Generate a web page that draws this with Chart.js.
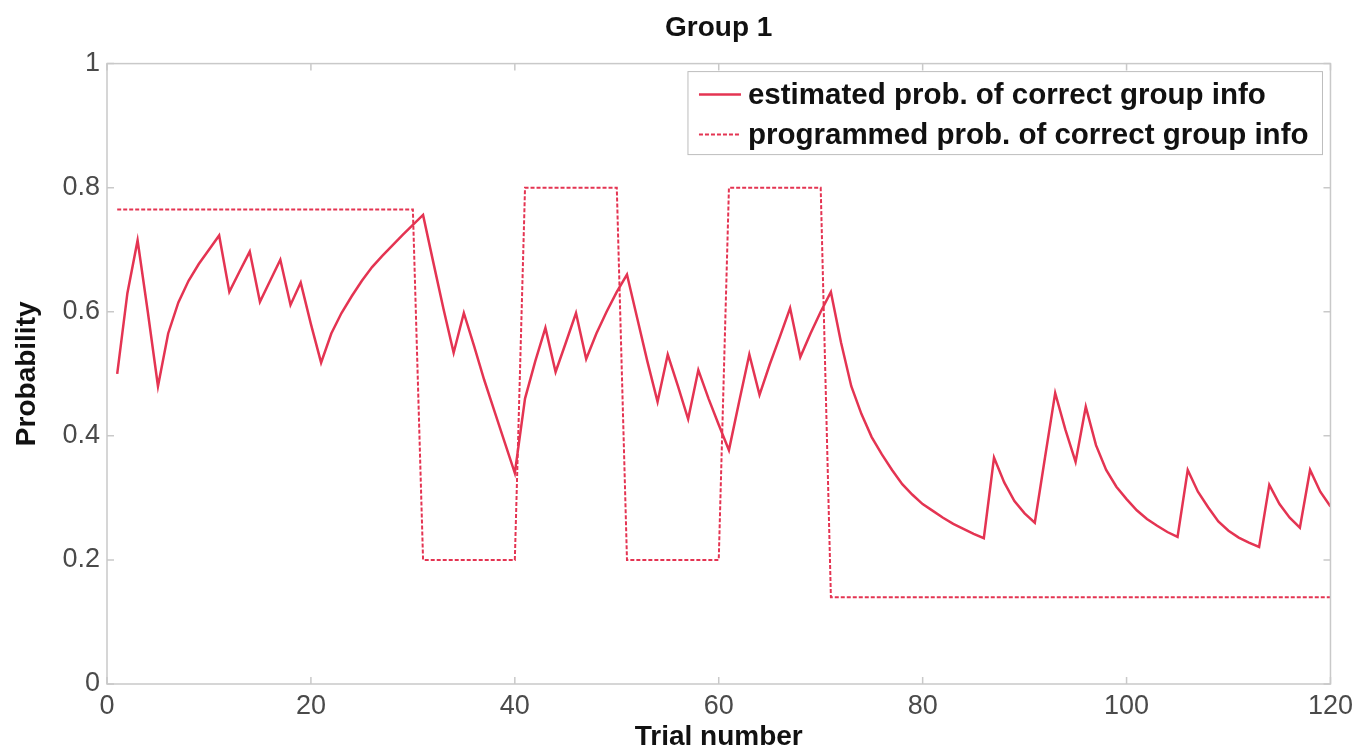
<!DOCTYPE html>
<html>
<head>
<meta charset="utf-8">
<script src="https://cdn.jsdelivr.net/npm/chart.js@4.4.1/dist/chart.umd.min.js"></script>
<style>
  html, body { margin: 0; padding: 0; background: #fff; }
  #wrap { width: 1359px; height: 754px; }
</style>
</head>
<body>
<div id="wrap"><canvas id="groupChart"></canvas></div>
<script>
// trial numbers 1..120
const trials = Array.from({ length: 120 }, (_, i) => i + 1);

// estimated prob. of correct group info
const estimated = [
  0.50, 0.63, 0.715, 0.60, 0.48, 0.565, 0.615, 0.65, 0.677, 0.70,
  0.723, 0.632, 0.665, 0.697, 0.616, 0.65, 0.684, 0.611, 0.647, 0.58,
  0.518, 0.565, 0.598, 0.625, 0.65, 0.672, 0.69, 0.707, 0.724, 0.74,
  0.756, 0.68, 0.605, 0.534, 0.598, 0.545, 0.49, 0.44, 0.39, 0.34,
  0.46, 0.52, 0.574, 0.503, 0.55, 0.598, 0.524, 0.565, 0.60, 0.632,
  0.66, 0.59, 0.52, 0.455, 0.531, 0.48, 0.427, 0.506, 0.46, 0.418,
  0.377, 0.455, 0.531, 0.466, 0.515, 0.56, 0.606, 0.527, 0.565, 0.60,
  0.632, 0.55, 0.48, 0.435, 0.398, 0.37, 0.345, 0.322, 0.305, 0.29,
  0.279, 0.268, 0.258, 0.25, 0.242, 0.235, 0.365, 0.325, 0.295, 0.275,
  0.26, 0.365, 0.469, 0.41, 0.358, 0.447, 0.385, 0.345, 0.318, 0.298,
  0.28, 0.266, 0.255, 0.245, 0.237, 0.345, 0.31, 0.285, 0.262, 0.247,
  0.236, 0.228, 0.221, 0.321, 0.29, 0.268, 0.252, 0.345, 0.31, 0.286
];

// programmed prob. of correct group info
const programmed = [
  0.765, 0.765, 0.765, 0.765, 0.765, 0.765, 0.765, 0.765, 0.765, 0.765,
  0.765, 0.765, 0.765, 0.765, 0.765, 0.765, 0.765, 0.765, 0.765, 0.765,
  0.765, 0.765, 0.765, 0.765, 0.765, 0.765, 0.765, 0.765, 0.765, 0.765,
  0.2, 0.2, 0.2, 0.2, 0.2, 0.2, 0.2, 0.2, 0.2, 0.2,
  0.8, 0.8, 0.8, 0.8, 0.8, 0.8, 0.8, 0.8, 0.8, 0.8,
  0.2, 0.2, 0.2, 0.2, 0.2, 0.2, 0.2, 0.2, 0.2, 0.2,
  0.8, 0.8, 0.8, 0.8, 0.8, 0.8, 0.8, 0.8, 0.8, 0.8,
  0.14, 0.14, 0.14, 0.14, 0.14, 0.14, 0.14, 0.14, 0.14, 0.14,
  0.14, 0.14, 0.14, 0.14, 0.14, 0.14, 0.14, 0.14, 0.14, 0.14,
  0.14, 0.14, 0.14, 0.14, 0.14, 0.14, 0.14, 0.14, 0.14, 0.14,
  0.14, 0.14, 0.14, 0.14, 0.14, 0.14, 0.14, 0.14, 0.14, 0.14,
  0.14, 0.14, 0.14, 0.14, 0.14, 0.14, 0.14, 0.14, 0.14, 0.14
];

const xTicks = [0, 20, 40, 60, 80, 100, 120];
const yTicks = [0, 0.2, 0.4, 0.6, 0.8, 1];
const yTickLabels = ['0', '0.2', '0.4', '0.6', '0.8', '1'];

const seriesNames = [
  'estimated prob. of correct group info',
  'programmed prob. of correct group info'
];

const RED = 'rgb(228, 52, 82)';
const FRAME = '#c9c9c9';
const FONT = 'Liberation Sans, Arial, Helvetica, sans-serif';

// box round the plot, inward ticks and the boxed legend
const framePlugin = {
  id: 'frame',
  afterDatasetsDraw(chart) {
    const { ctx, chartArea: a, scales } = chart;
    ctx.save();
    ctx.strokeStyle = FRAME;
    ctx.lineWidth = 1.5;
    ctx.strokeRect(a.left, a.top, a.right - a.left, a.bottom - a.top);
    ctx.beginPath();
    xTicks.forEach(v => {
      const px = scales.x.getPixelForValue(v);
      ctx.moveTo(px, a.bottom); ctx.lineTo(px, a.bottom - 7);
      ctx.moveTo(px, a.top); ctx.lineTo(px, a.top + 7);
    });
    yTicks.forEach(v => {
      const py = scales.y.getPixelForValue(v);
      ctx.moveTo(a.left, py); ctx.lineTo(a.left + 7, py);
      ctx.moveTo(a.right, py); ctx.lineTo(a.right - 7, py);
    });
    ctx.stroke();

    // legend
    ctx.font = 'bold 29.5px ' + FONT;
    const textW = Math.max(...seriesNames.map(s => ctx.measureText(s).width));
    const w = 11 + 42 + 7 + textW + 14;
    const h = 83;
    const bx = a.right - 8 - w;
    const by = a.top + 8;
    ctx.fillStyle = '#fff';
    ctx.fillRect(bx, by, w, h);
    ctx.strokeStyle = '#bdbdbd';
    ctx.lineWidth = 1;
    ctx.strokeRect(bx, by, w, h);
    chart.data.datasets.forEach((ds, i) => {
      const cy = by + 23 + i * 40;
      ctx.strokeStyle = ds.borderColor;
      ctx.lineWidth = ds.borderWidth;
      ctx.setLineDash(ds.borderDash || []);
      ctx.beginPath();
      ctx.moveTo(bx + 11, cy); ctx.lineTo(bx + 53, cy);
      ctx.stroke();
      ctx.setLineDash([]);
      ctx.fillStyle = '#111';
      ctx.textBaseline = 'middle';
      ctx.textAlign = 'left';
      ctx.fillText(ds.label, bx + 60, cy + 1);
    });
    ctx.restore();
  }
};

new Chart(document.getElementById('groupChart').getContext('2d'), {
  type: 'line',
  data: {
    datasets: [{
      label: seriesNames[0],
      data: trials.map((t, i) => ({ x: t, y: estimated[i] })),
      borderColor: RED,
      borderWidth: 2.5,
      pointRadius: 0,
      tension: 0
    }, {
      label: seriesNames[1],
      data: trials.map((t, i) => ({ x: t, y: programmed[i] })),
      borderColor: RED,
      borderWidth: 2,
      borderDash: [4, 2],
      pointRadius: 0,
      tension: 0
    }]
  },
  options: {
    responsive: true,
    maintainAspectRatio: false,
    animation: false,
    layout: { padding: 0 },
    plugins: {
      legend: { display: false },
      tooltip: { enabled: false },
      title: {
        display: true,
        text: 'Group 1',
        fullSize: false,
        color: '#111',
        font: { family: FONT, size: 28, weight: 'bold' },
        padding: { top: 11, bottom: 19 }
      }
    },
    scales: {
      x: {
        type: 'linear',
        min: 0,
        max: 120,
        afterFit: s => { s.height = 70; },
        afterBuildTicks: s => { s.ticks = xTicks.map(v => ({ value: v })); },
        grid: { display: false, drawTicks: false },
        border: { display: false },
        ticks: {
          color: '#4a4a4a',
          padding: 6,
          maxRotation: 0,
          font: { family: FONT, size: 27 }
        },
        title: {
          display: true,
          text: 'Trial number',
          color: '#111',
          padding: 0,
          font: { family: FONT, size: 28, weight: 'bold' }
        }
      },
      y: {
        min: 0,
        max: 1,
        afterFit: s => { s.width = 107; },
        afterBuildTicks: s => { s.ticks = yTicks.map(v => ({ value: v })); },
        grid: { display: false, drawTicks: false },
        border: { display: false },
        ticks: {
          color: '#4a4a4a',
          padding: 7,
          font: { family: FONT, size: 27 },
          callback: (v) => yTickLabels[yTicks.indexOf(v)]
        },
        title: {
          display: true,
          text: 'Probability',
          color: '#111',
          padding: { top: 10, bottom: 0 },
          font: { family: FONT, size: 28, weight: 'bold' }
        }
      }
    }
  },
  plugins: [framePlugin]
});
</script>
</body>
</html>
